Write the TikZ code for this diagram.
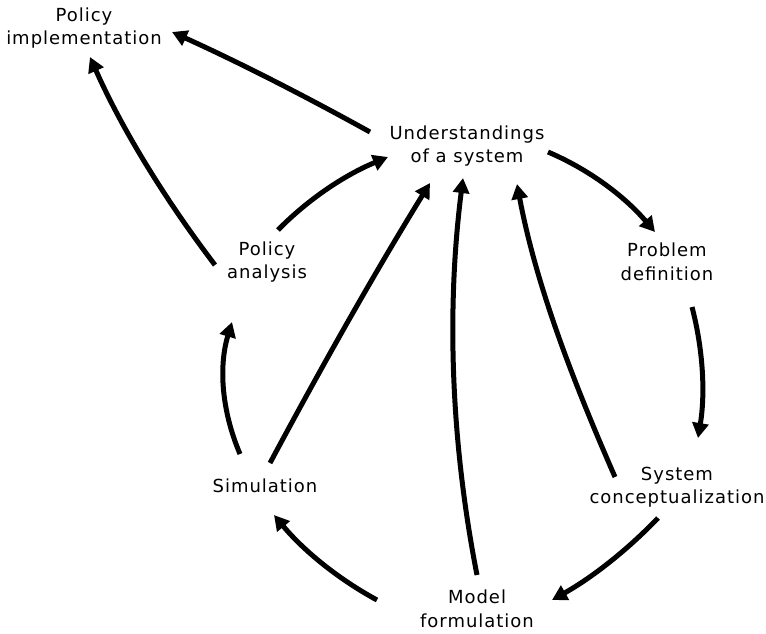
\documentclass[tikz,border=0pt]{standalone}
\usepackage{fontspec}
\setmainfont{DejaVu Sans}[LetterSpace=5.5]
\usetikzlibrary{arrows.meta,calc}
\begin{document}
\begin{tikzpicture}[x=1pt,y=-1pt,
  label/.style={align=center,inner sep=0pt,font=\fontsize{18}{23.5}\selectfont},
  flow/.style={line width=5pt,-{Triangle[length=15pt,width=16pt]}}]
\useasboundingbox (0,0) rectangle (766,633);

% stages of the modelling cycle
\node[label] (pimpl) at (84,28)  {Policy\\implementation};
\node[label] (und)   at (467,146) {Understandings\\of a system};
\node[label] (pd)    at (667,262) {Problem\\definition};
\node[label] (pana)  at (267,262) {Policy\\analysis};
\node[label] (sim)   at (265,486) {Simulation};
\node[label] (sc)    at (677,487) {System\\conceptualization};
\node[label] (mf)    at (477,609) {Model\\formulation};

% connectors
\draw[flow] ($(und)+(-97,-14)$) .. controls (302.7,94.7) and (236.7,61.3) .. ($(pimpl)+(88,4)$);
\draw[flow] ($(pana)+(-52,3)$) .. controls (162.3,195.7) and (120.7,126.3) .. ($(pimpl)+(6,29)$);
\draw[flow] ($(pana)+(11,-32)$) .. controls (308,199.3) and (344.7,175) .. ($(und)+(-79,11)$);
\draw[flow] ($(sim)+(-25,-32)$) .. controls (221.3,410) and (218.7,366) .. ($(pana)+(-35,60)$);
\draw[flow] ($(sim)+(5,-23)$) .. controls (320.7,368.3) and (373.3,275) .. ($(und)+(-37,37)$);
\draw[flow] ($(mf)+(0,-34)$) .. controls (451,442.3) and (446.3,310) .. ($(und)+(-4,32)$);
\draw[flow] ($(sc)+(-62,-10)$) .. controls (573,381) and (536,285) .. ($(und)+(50,38)$);
\draw[flow] ($(und)+(81,6)$) .. controls (588.7,169.3) and (624.3,196) .. ($(pd)+(-12,-30)$);
\draw[flow] ($(pd)+(25,45)$) .. controls (703.3,350.3) and (705.3,394) .. ($(sc)+(21,-49)$);
\draw[flow] ($(sc)+(-19,31)$) .. controls (626.7,550.7) and (591.3,578) .. ($(mf)+(75,-9)$);
\draw[flow] ($(mf)+(-100,-9)$) .. controls (337.7,578.7) and (303.3,550.3) .. ($(sim)+(9,29)$);
\end{tikzpicture}
\end{document}
